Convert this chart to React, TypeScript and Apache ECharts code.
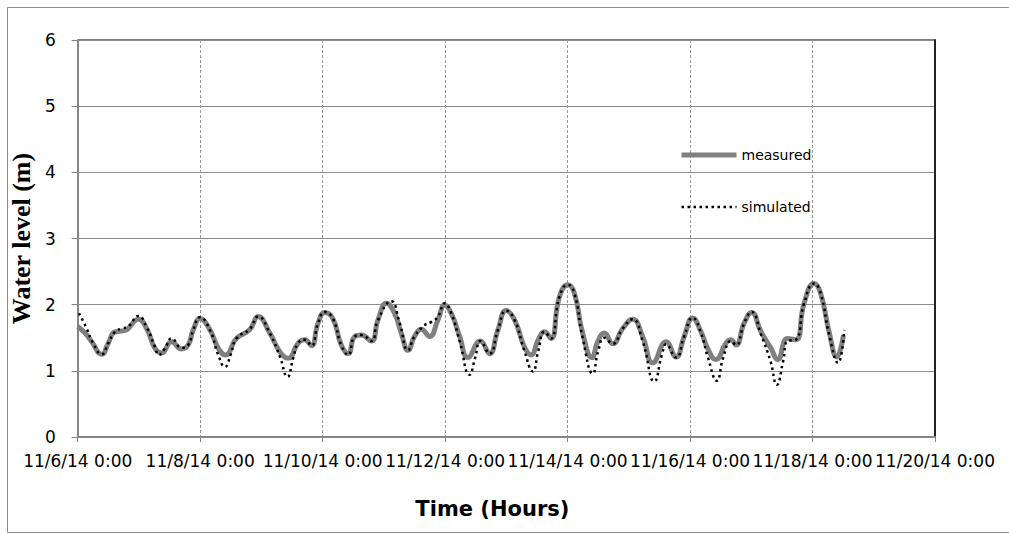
import React, { useEffect, useRef } from "react";
import * as echarts from "echarts";

// Hours since 11/6/14 0:00
const measuredHours = [
  0, 2.9, 5.5, 9.4, 12, 14.6, 18.5, 23.8, 27, 30.3, 32.9, 36.8, 40.7, 43.3, 45.3, 47.9, 51.8, 55.1, 57.9,
  62.2, 67.4, 70.7, 75.3, 79.2, 82.5, 86.4, 89, 91.6, 94.2, 96.8, 100, 103.3, 106, 108.6, 111.2, 115.1,
  117.7, 121, 124.2, 126.8, 129.5, 132, 134.7, 137.9, 141.2, 143.8, 146.4, 149.7, 152.9, 157.8, 161.4,
  164.7, 167.9, 171.2, 175.1, 177.7, 180.5, 182.9, 185.5, 188.8, 192.1, 194.7, 197.9, 201.6, 203.8, 206.4,
  209.7, 213.6, 217.5, 221.4, 225.4, 230.6, 234.5, 237.7, 241, 244.3, 246.9, 250.1, 254.1, 256, 258, 261.2,
  264.1, 267.8, 271.7, 274.3, 278.2, 281.5, 284.7, 288.6, 291.2, 294.5, 297.5, 300.1,
];
const measuredLevel = [
  1.67, 1.57, 1.44, 1.25, 1.42, 1.59, 1.61, 1.78, 1.64, 1.34, 1.27, 1.44, 1.33, 1.39, 1.62, 1.79, 1.62, 1.34, 1.24,
  1.49, 1.62, 1.82, 1.57, 1.29, 1.19, 1.42, 1.47, 1.38, 1.72, 1.88, 1.79, 1.39, 1.26, 1.52, 1.54, 1.45,
  1.77, 2.02, 1.87, 1.57, 1.31, 1.52, 1.63, 1.52, 1.77, 1.99, 1.87, 1.52, 1.2, 1.45, 1.26,
  1.62, 1.91, 1.77, 1.36, 1.24, 1.47, 1.59, 1.49, 2.12, 2.3, 2.17, 1.57, 1.2, 1.44, 1.57,
  1.41, 1.64, 1.78, 1.52, 1.12, 1.44, 1.21, 1.52, 1.8, 1.59, 1.34, 1.17, 1.42, 1.47, 1.39, 1.72,
  1.88, 1.59, 1.34, 1.17, 1.49, 1.47, 2.02, 2.32, 2.17, 1.59, 1.21, 1.54,
];
const simulatedHours = [
  0.5, 3.5, 6, 9.4, 12, 14.6, 17.2, 19.8, 23.8, 27, 30.3, 31.8, 34, 36.8, 40.7, 43.3, 45.3, 47.9, 51.8, 55,
  57.7, 60, 62.2, 67.4, 70.7, 75.3, 79.2, 82.2, 84.5, 86.4, 89, 91.6, 94.2, 96.8, 100, 103.3, 106, 108.6,
  111.2, 115.1, 117.7, 122.9, 126, 129.5, 132, 136, 138.6, 141.2, 143.8, 146.4, 149.7, 153.6, 155.8, 157.8,
  161.4, 164.7, 167.9, 171.2, 175.1, 178.4, 180.5, 182.9, 185.5, 188.8, 192.1, 194.7, 197.9, 201.9, 204,
  206.4, 209.7, 213.6, 217.5, 221.4, 226, 229, 230.6, 234.5, 237.7, 241, 244.3, 247, 250.5, 253, 256, 258,
  261.2, 264.1, 267.8, 271.5, 274, 276.5, 278.2, 281.5, 284.7, 288.6, 291.2, 294.5, 298, 300.4,
];
const simulatedLevel = [
  1.87, 1.64, 1.42, 1.25, 1.42, 1.59, 1.64, 1.67, 1.83, 1.66, 1.36, 1.24, 1.33, 1.49, 1.35, 1.39, 1.62, 1.81, 1.62, 1.25,
  1.06, 1.25, 1.49, 1.63, 1.82, 1.57, 1.22, 0.91, 1.2, 1.42, 1.47, 1.38, 1.72, 1.89, 1.79, 1.39, 1.24, 1.52,
  1.54, 1.45, 1.77, 2.05, 1.75, 1.31, 1.52, 1.69, 1.74, 1.82, 2.02, 1.87, 1.45, 0.94, 1.2, 1.45,
  1.26, 1.62, 1.91, 1.77, 1.3, 0.99, 1.3, 1.59, 1.49, 2.12, 2.3, 2.17, 1.5, 0.96, 1.3,
  1.5, 1.41, 1.64, 1.78, 1.45, 0.84, 1.25, 1.4, 1.2, 1.52, 1.8, 1.57, 1.2, 0.85, 1.2, 1.45, 1.39,
  1.72, 1.89, 1.55, 1.15, 0.79, 1.15, 1.45, 1.47, 2.02, 2.32, 2.17, 1.55, 1.12, 1.62,
];

const seriesNames = ["measured", "simulated"];
const xTitle = "Time (Hours)";
const yTitle = "Water level (m)";
const startMonth = 11;
const startDay = 6;
const startYear = 14;

const measuredColor = "#808080";
const simulatedColor = "#000000";
const simulatedDash = [2.5, 3.5];

function hourLabel(v: number): string {
  const day = startDay + Math.round(v / 24);
  return `${startMonth}/${day}/${startYear} 0:00`;
}

export default function App() {
  const ref = useRef<HTMLDivElement>(null);
  useEffect(() => {
    if (!ref.current) return;
    const chart = echarts.init(ref.current, null, { renderer: "svg" });
    const measuredData = measuredHours.map((h, i) => [h, measuredLevel[i]]);
    const simulatedData = simulatedHours.map((h, i) => [h, simulatedLevel[i]]);
    chart.setOption({
      animation: false,
      backgroundColor: "#ffffff",
      textStyle: { fontFamily: "DejaVu Sans" },
      graphic: [
        {
          type: "rect",
          silent: true,
          z: -10,
          shape: { x: 7.5, y: 7.5, width: 1010, height: 525 },
          style: { fill: "none", stroke: "#8c8c8c", lineWidth: 1 },
        },
      ],
      grid: {
        left: 76,
        top: 40,
        right: 74,
        bottom: 97,
        show: true,
        borderColor: "#000",
        borderWidth: 1,
        backgroundColor: "transparent",
      },
      legend: {
        orient: "vertical",
        left: 679,
        top: 148,
        padding: 0,
        itemWidth: 55,
        itemHeight: 14,
        itemGap: 38,
        itemStyle: { opacity: 0 },
        data: [
          { name: seriesNames[0], lineStyle: { color: measuredColor, width: 5 } },
          { name: seriesNames[1], lineStyle: { color: simulatedColor, width: 2.5, type: simulatedDash } },
        ],
        textStyle: { fontFamily: "DejaVu Sans", fontSize: 14, color: "#000" },
      },
      xAxis: {
        type: "value",
        min: 0,
        max: 336,
        interval: 48,
        name: xTitle,
        nameLocation: "middle",
        nameGap: 61,
        nameTextStyle: {
          fontFamily: "DejaVu Sans",
          fontWeight: "bold",
          fontSize: 21,
          color: "#000",
          padding: [0, 28, 0, 0],
        },
        axisLine: { show: true, onZero: false, lineStyle: { color: "#868686", width: 2 } },
        axisTick: { show: true, length: 5, lineStyle: { color: "#868686" } },
        axisLabel: {
          formatter: hourLabel,
          fontFamily: "DejaVu Sans",
          fontSize: 17,
          color: "#000",
          margin: 15,
          showMinLabel: true,
          showMaxLabel: true,
        },
        splitLine: { show: true, lineStyle: { color: "#9a9a9a", width: 1, type: [3, 2] } },
      },
      yAxis: [
        {
          type: "value",
          min: 0,
          max: 6,
          interval: 1,
          name: yTitle,
          nameLocation: "middle",
          nameGap: 40,
          nameRotate: 90,
          nameTextStyle: { fontFamily: "Liberation Serif", fontWeight: "bold", fontSize: 26, color: "#000" },
          axisLine: { show: true, lineStyle: { color: "#868686", width: 2 } },
          axisTick: { show: true, length: 6, lineStyle: { color: "#868686" } },
          axisLabel: { margin: 22, fontFamily: "DejaVu Sans", fontSize: 17, color: "#000" },
          splitLine: { show: true, lineStyle: { color: "#8c8c8c", width: 1 } },
        },
        {
          type: "value",
          position: "right",
          min: 0,
          max: 6,
          interval: 1,
          axisLine: { show: true, lineStyle: { color: "#222", width: 2 } },
          axisTick: { show: false },
          axisLabel: { show: false },
          splitLine: { show: false },
        },
      ],
      series: [
        {
          type: "line",
          name: seriesNames[0],
          data: measuredData,
          smooth: 0.5,
          symbol: "none",
          lineStyle: { color: measuredColor, width: 5 },
          itemStyle: { color: measuredColor },
          z: 2,
        },
        {
          type: "line",
          name: seriesNames[1],
          data: simulatedData,
          smooth: 0.5,
          symbol: "none",
          lineStyle: { color: simulatedColor, width: 2.5, type: simulatedDash },
          itemStyle: { color: simulatedColor },
          z: 3,
        },
      ],
    });
    return () => chart.dispose();
  }, []);
  return (
    <div
      ref={ref}
      style={{ position: "fixed", left: 0, top: 0, width: 1009, height: 534, background: "#fff" }}
    />
  );
}
